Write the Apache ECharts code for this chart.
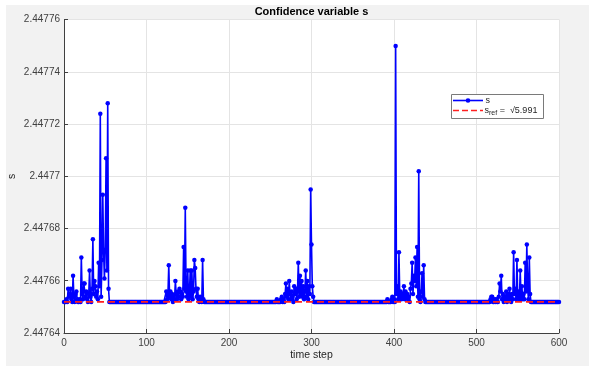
<!DOCTYPE html>
<html>
<head>
<meta charset="utf-8">
<script src="https://cdn.jsdelivr.net/npm/echarts@6/dist/echarts.min.js"></script>
<style>
html,body{margin:0;padding:0;background:#ffffff;}
#bg{position:absolute;left:6px;top:5px;width:583px;height:361px;background:#f2f2f2;}
#chart{position:absolute;left:0;top:0;width:589px;height:366px;}
</style>
</head>
<body>
<div id="bg"></div>
<div id="chart"></div>
<script>
// ---- data ----
const titleText = 'Confidence variable s';
const xName = 'time step';
const yName = 's';
const tMin = 0, tMax = 600, tStep = 100;
const yMin = 2.44764, yMax = 2.44776, yStep = 0.00002;
const sRef = 2.4476519;              // √5.991, flat level of s between bursts
const sRefLabel = '√5.991';
const legendNames = ['s', 'ref'];

// bursts: offsets above sRef in units of 1e-6, one value per time step
const burst1Start = 0;
const burst1 = [0,0,0,1,0, 5,2,3,5,1, 0,10,2,0,3, 4,1,0,0,1, 0,17,3,1,7, 7,2,4,1,0,
                3,12,2,0,5, 24,3,8,6,2, 4,1,15,6,72, 2,16,41,19,9, 20,55,12,76,5, 0];
const burst2Start = 122;
const burst2 = [0,0,4,1,3,14,2,4,1,3,0,2,1,8,3,1,4,2,5,4,1,3,2,21,5,36,4,2,12,1,3,12,2,12,1,4,
                16,13,5,2,5,1,0,2,1,0,16,1,0];
const burst3Start = 255;
const burst3 = [0,0,0,1,0, 0,0,0,1,2, 0,1,0,3,7, 2,5,1,8,3, 1,4,2,0,6, 3,5,1,4,15,
                2,10,3,8,2, 6,1,4,12,2, 8,1,6,3,43, 22,6,2,0];
const burst4Start = 390;
const burst4 = [0,0,1,0,0, 0,0,1,2,0, 1,0,98,3,6, 1,19,2,4,1, 3,2,6,1,4, 2,3,1,2,0,
                5,7,15,3,10, 8,17,6,21,2, 50,1,0,4,11, 2,14,1,0];
const burst5Start = 515;
const burst5 = [0,0,1,2,2, 0,0,1,0,1, 0,0,2,7,4, 10,1,3,0,2, 1,4,0,3,1, 5,2,0,3,1,
                19,3,5,1,16, 2,4,1,12,2, 6,1,3,1,15, 4,22,5,1,17, 3,0];

// ---- build series ----
const sValues = [];
for (let t = tMin; t <= tMax; t++) sValues.push(sRef);
[[burst1Start,burst1],[burst2Start,burst2],[burst3Start,burst3],[burst4Start,burst4],[burst5Start,burst5]]
  .forEach(([st, arr]) => arr.forEach((o, i) => { sValues[st + i] = sRef + o * 1e-6; }));
const sData = sValues.map((v, i) => [tMin + i, v]);
const refData = [[tMin, sRef], [tMax, sRef]];

const font = 'Liberation Sans, Arial, Helvetica, sans-serif';
const blue = '#0000ff', red = '#ff2020';
const chart = echarts.init(document.getElementById('chart'), null, {renderer: 'canvas'});
chart.setOption({
  backgroundColor: 'transparent',
  animation: false,
  title: {
    text: titleText, left: 311.5, top: 6, textAlign: 'center', padding: 0,
    textStyle: {fontFamily: font, fontSize: 11, fontWeight: 'bold', color: '#000'}
  },
  grid: {left: 64, right: 30, top: 19.5, bottom: 33, show: true, backgroundColor: '#ffffff', borderWidth: 0,
         containLabel: false, outerBoundsMode: 'none'},
  xAxis: {
    type: 'value', min: tMin, max: tMax, interval: tStep,
    name: xName, nameLocation: 'middle', nameGap: 17, nameMoveOverlap: false,
    nameTextStyle: {fontFamily: font, fontSize: 10.5, color: '#262626'},
    axisLine: {show: true, lineStyle: {color: '#404040', width: 1}},
    axisTick: {show: true, inside: true, length: 4, lineStyle: {color: '#404040'}},
    axisLabel: {fontFamily: font, fontSize: 10, color: '#404040', margin: 5},
    splitLine: {show: true, lineStyle: {color: '#e4e4e4', width: 1}}
  },
  yAxis: {
    type: 'value', min: yMin, max: yMax, interval: yStep,
    name: yName, nameLocation: 'middle', nameGap: 46, nameRotate: 90, nameMoveOverlap: false,
    nameTextStyle: {fontFamily: font, fontSize: 10.5, color: '#262626'},
    axisLine: {show: true, lineStyle: {color: '#404040', width: 1}},
    axisTick: {show: true, inside: true, length: 4, lineStyle: {color: '#404040'}},
    axisLabel: {
      fontFamily: font, fontSize: 10, color: '#404040', margin: 4,
      formatter: v => v.toFixed(5).replace(/0+$/, '').replace(/\.$/, '')
    },
    splitLine: {show: true, lineStyle: {color: '#e4e4e4', width: 1}}
  },
  series: [
    {
      name: 's', type: 'line', data: sData,
      symbol: 'circle', symbolSize: 4.5, showAllSymbol: true,
      lineStyle: {color: blue, width: 1.6},
      itemStyle: {color: blue},
      z: 2
    },
    {
      name: 'sref', type: 'line', data: refData,
      symbol: 'none',
      lineStyle: {color: red, width: 1.6, type: [7, 4]},
      itemStyle: {color: red},
      z: 3
    }
  ],
  graphic: [
    {type: 'rect', z: 100, shape: {x: 451.5, y: 94.5, width: 92, height: 24},
     style: {fill: '#ffffff', stroke: '#7a7a7a', lineWidth: 1}},
    {type: 'line', z: 101, shape: {x1: 453, y1: 100.5, x2: 483, y2: 100.5},
     style: {stroke: blue, lineWidth: 1.6}},
    {type: 'circle', z: 102, shape: {cx: 468, cy: 100.5, r: 2.3}, style: {fill: blue}},
    {type: 'text', z: 102, style: {x: 485.5, y: 100.5, text: legendNames[0], font: '9px ' + font,
     fill: '#262626', verticalAlign: 'middle'}},
    {type: 'line', z: 101, shape: {x1: 453, y1: 110.5, x2: 483, y2: 110.5},
     style: {stroke: red, lineWidth: 1.6, lineDash: [6, 3]}},
    {type: 'text', z: 102, style: {
      x: 484.5, y: 110.5, verticalAlign: 'middle', fill: '#262626', font: '9px ' + font,
      text: '{a|' + legendNames[0] + '}{b|' + legendNames[1] + '}{a| =  ' + sRefLabel + '}',
      rich: {
        a: {fontFamily: font, fontSize: 9, fill: '#262626', lineHeight: 11},
        b: {fontFamily: font, fontSize: 7, fill: '#262626', lineHeight: 11, padding: [5, 0, 0, 0]}
      }
    }}
  ]
});
</script>
</body>
</html>
